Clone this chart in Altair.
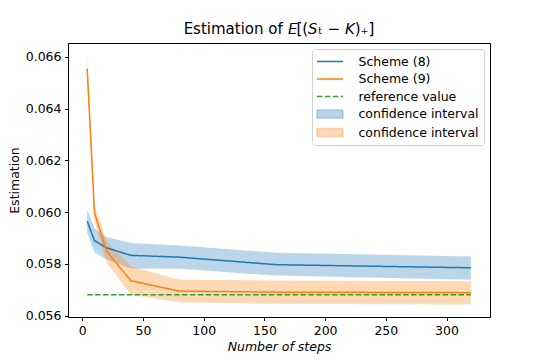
import altair as alt
import pandas as pd

# ---- data ----
steps = [4, 10, 20, 40, 80, 160, 320]
scheme8 = [0.05965, 0.05890, 0.05862, 0.05833, 0.05826, 0.05797, 0.05785]
scheme8_low = [0.05920, 0.05845, 0.05817, 0.05782, 0.05781, 0.05755, 0.05739]
scheme8_high = [0.06010, 0.05937, 0.05904, 0.05881, 0.05871, 0.05843, 0.05829]
scheme9 = [0.06554, 0.05997, 0.05849, 0.05735, 0.05695, 0.05691, 0.05689]
scheme9_low = [0.06506, 0.05967, 0.05804, 0.05681, 0.05652, 0.05646, 0.05643]
scheme9_high = [0.06602, 0.06027, 0.05887, 0.05791, 0.05739, 0.05736, 0.05733]
reference_value = 0.05681

series_names = ["Scheme (8)", "Scheme (9)", "reference value",
                "confidence interval", "confidence interval "]
x_ticks = [0, 50, 100, 150, 200, 250, 300]
y_ticks = [0.056, 0.058, 0.060, 0.062, 0.064, 0.066]

# ---- tables ----
line_rows = []
for s, v8, v9 in zip(steps, scheme8, scheme9):
    line_rows.append({"steps": s, "value": v8, "series": series_names[0]})
    line_rows.append({"steps": s, "value": v9, "series": series_names[1]})
    line_rows.append({"steps": s, "value": reference_value, "series": series_names[2]})
lines_df = pd.DataFrame(line_rows)

band_rows = []
for s, lo8, hi8, lo9, hi9 in zip(steps, scheme8_low, scheme8_high, scheme9_low, scheme9_high):
    band_rows.append({"steps": s, "low": lo8, "high": hi8, "series": series_names[3]})
    band_rows.append({"steps": s, "low": lo9, "high": hi9, "series": series_names[4]})
bands_df = pd.DataFrame(band_rows)

FONT = "DejaVu Sans"

color_scale = alt.Scale(domain=series_names,
                        range=["#1f77b4", "#ff7f0e", "#2ca02c",
                               "rgba(31,119,180,0.3)", "rgba(255,127,14,0.3)"])
shape_scale = alt.Scale(domain=series_names,
                        range=["M-2,0H2", "M-2,0H2", "M-2,0H2",
                               "M-2,-0.6H2V0.6H-2Z", "M-2,-0.6H2V0.6H-2Z"])
dash_scale = alt.Scale(domain=series_names,
                       range=[[1, 0], [1, 0], [5.5, 2.4], [1, 0], [1, 0]])

legend = alt.Legend(title=None, orient="top-right", offset=6, padding=5,
                    strokeColor="#d0d0d0", fillColor="white", cornerRadius=3,
                    labelFont=FONT, labelFontSize=12.5, labelColor="black",
                    symbolSize=169, symbolStrokeWidth=1.5, symbolOpacity=1,
                    symbolOffset=5.5, labelOffset=21, rowPadding=3.5)

x_enc = alt.X("steps:Q",
              scale=alt.Scale(domain=[-11.8, 335.8], nice=False, zero=False),
              axis=alt.Axis(values=x_ticks, title="Number of steps",
                            titleFontStyle="italic", titlePadding=4))
y_scale = alt.Scale(domain=[0.05595, 0.06653], nice=False, zero=False)
y_axis = alt.Axis(values=y_ticks, format=".3f", title="Estimation", titlePadding=4)

bands = alt.Chart(bands_df).mark_area(interpolate="linear").encode(
    x=x_enc,
    y=alt.Y("low:Q", scale=y_scale, axis=y_axis),
    y2="high:Q",
    color=alt.Color("series:N", scale=color_scale, legend=legend),
)

lines = alt.Chart(lines_df).mark_line(strokeWidth=1.5).encode(
    x=x_enc,
    y=alt.Y("value:Q", scale=y_scale, axis=y_axis),
    color=alt.Color("series:N", scale=color_scale, legend=legend),
    strokeDash=alt.StrokeDash("series:N", scale=dash_scale, legend=legend),
)

legend_shapes = alt.Chart(lines_df).mark_point().encode(
    x=x_enc,
    y=alt.Y("value:Q", scale=y_scale, axis=y_axis),
    color=alt.Color("series:N", scale=color_scale, legend=legend),
    shape=alt.Shape("series:N", scale=shape_scale, legend=legend),
).transform_filter("false")

chart = alt.layer(bands, lines, legend_shapes).properties(
    width=422, height=274,
    autosize=alt.AutoSizeParams(type="none"),
    padding={"left": 60, "top": 35, "right": 47, "bottom": 40},
    title=alt.TitleParams("Estimation of 𝘌[(𝘚ₜ − 𝘒)₊]", fontSize=15,
                          fontWeight="normal", font=FONT, color="black", offset=6),
).configure_view(
    stroke="black", strokeWidth=1
).configure_axis(
    domainColor="black", tickColor="black", labelColor="black", titleColor="black",
    labelFont=FONT, titleFont=FONT, labelFontSize=12.5, titleFontSize=12.5,
    titleFontWeight="normal", tickSize=3.5, grid=False, domainWidth=1, tickWidth=1,
    labelPadding=3.5,
)

chart.save("out.html", embed_options={"renderer": "svg", "actions": False})
